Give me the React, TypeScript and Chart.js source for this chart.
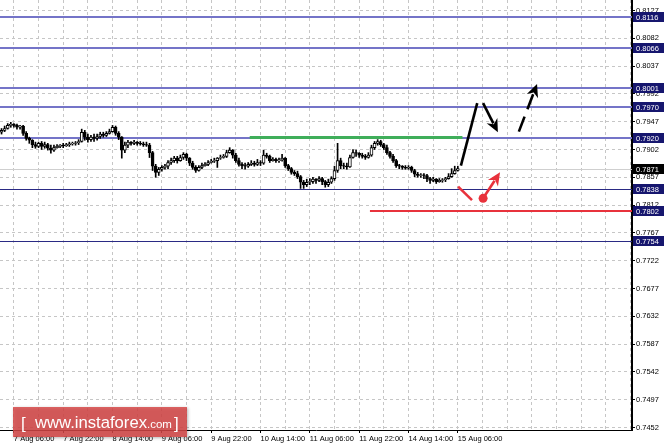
import React, { useEffect, useRef } from 'react';
import { Chart, registerables } from 'chart.js';

Chart.register(...registerables);

// ---- Hourly candles ----
const OPEN = [
  0.7930, 0.7933, 0.7936, 0.7941, 0.7943, 0.7941, 0.7938, 0.7940, 0.7928, 0.7920,
  0.7917, 0.7910, 0.7907, 0.7912, 0.7907, 0.7910, 0.7904, 0.7901, 0.7905, 0.7907,
  0.7909, 0.7908, 0.7910, 0.7911, 0.7912, 0.7913, 0.7915, 0.7930, 0.7922, 0.7918,
  0.7922, 0.7920, 0.7923, 0.7927, 0.7925, 0.7928, 0.7931, 0.7938, 0.7928, 0.7922,
  0.7901, 0.7909, 0.7914, 0.7912, 0.7914, 0.7912, 0.7911, 0.7910, 0.7909, 0.7897,
  0.7875, 0.7865, 0.7870, 0.7873, 0.7875, 0.7881, 0.7884, 0.7888, 0.7884, 0.7889,
  0.7894, 0.7888, 0.7880, 0.7873, 0.7868, 0.7873, 0.7876, 0.7878, 0.7881, 0.7883,
  0.7884, 0.7888, 0.7889, 0.7891, 0.7897, 0.7901, 0.7893, 0.7884, 0.7878, 0.7876,
  0.7875, 0.7878, 0.7880, 0.7878, 0.7881, 0.7880, 0.7893, 0.7891, 0.7884, 0.7886,
  0.7884, 0.7885, 0.7888, 0.7876, 0.7871, 0.7865, 0.7863, 0.7858, 0.7849, 0.7845,
  0.7849, 0.7850, 0.7854, 0.7852, 0.7855, 0.7850, 0.7845, 0.7849, 0.7855, 0.7868,
  0.7884, 0.7876, 0.7875, 0.7874, 0.7889, 0.7897, 0.7896, 0.7893, 0.7891, 0.7889,
  0.7893, 0.7905, 0.7912, 0.7915, 0.7910, 0.7905, 0.7897, 0.7891, 0.7884, 0.7876,
  0.7875, 0.7873, 0.7872, 0.7873, 0.7868, 0.7862, 0.7860, 0.7861, 0.7860, 0.7855,
  0.7852, 0.7854, 0.7850, 0.7852, 0.7853, 0.7855, 0.7858, 0.7863, 0.7868,
];
const HIGH = [
  0.7936, 0.7940, 0.7944, 0.7946, 0.7944, 0.7943, 0.7941, 0.7941, 0.7931, 0.7922,
  0.7918, 0.7914, 0.7914, 0.7915, 0.7914, 0.7912, 0.7909, 0.7909, 0.7910, 0.7910,
  0.7912, 0.7912, 0.7914, 0.7914, 0.7915, 0.7918, 0.7935, 0.7933, 0.7927, 0.7925,
  0.7927, 0.7927, 0.7930, 0.7930, 0.7931, 0.7935, 0.7941, 0.7940, 0.7931, 0.7923,
  0.7914, 0.7917, 0.7915, 0.7917, 0.7915, 0.7915, 0.7914, 0.7914, 0.7912, 0.7899,
  0.7878, 0.7873, 0.7876, 0.7878, 0.7884, 0.7888, 0.7891, 0.7891, 0.7893, 0.7897,
  0.7896, 0.7889, 0.7883, 0.7876, 0.7876, 0.7880, 0.7881, 0.7884, 0.7886, 0.7888,
  0.7889, 0.7893, 0.7894, 0.7901, 0.7905, 0.7902, 0.7896, 0.7888, 0.7881, 0.7880,
  0.7881, 0.7884, 0.7883, 0.7886, 0.7884, 0.7901, 0.7896, 0.7893, 0.7889, 0.7888,
  0.7888, 0.7894, 0.7889, 0.7878, 0.7873, 0.7868, 0.7867, 0.7860, 0.7852, 0.7854,
  0.7855, 0.7857, 0.7855, 0.7858, 0.7857, 0.7852, 0.7854, 0.7858, 0.7875, 0.7912,
  0.7888, 0.7880, 0.7880, 0.7893, 0.7902, 0.7901, 0.7897, 0.7896, 0.7894, 0.7897,
  0.7909, 0.7915, 0.7918, 0.7917, 0.7912, 0.7909, 0.7899, 0.7894, 0.7886, 0.7878,
  0.7876, 0.7876, 0.7876, 0.7875, 0.7870, 0.7865, 0.7863, 0.7863, 0.7862, 0.7857,
  0.7857, 0.7855, 0.7855, 0.7855, 0.7857, 0.7863, 0.7871, 0.7875, 0.7875,
];
const LOW = [
  0.7927, 0.7931, 0.7935, 0.7938, 0.7938, 0.7935, 0.7935, 0.7925, 0.7917, 0.7912,
  0.7905, 0.7904, 0.7905, 0.7902, 0.7904, 0.7901, 0.7896, 0.7899, 0.7904, 0.7905,
  0.7905, 0.7907, 0.7907, 0.7909, 0.7909, 0.7910, 0.7914, 0.7917, 0.7914, 0.7915,
  0.7915, 0.7917, 0.7920, 0.7922, 0.7923, 0.7927, 0.7930, 0.7925, 0.7918, 0.7888,
  0.7897, 0.7905, 0.7909, 0.7910, 0.7909, 0.7909, 0.7907, 0.7907, 0.7889, 0.7868,
  0.7857, 0.7860, 0.7867, 0.7870, 0.7871, 0.7878, 0.7881, 0.7880, 0.7883, 0.7886,
  0.7884, 0.7876, 0.7870, 0.7865, 0.7867, 0.7871, 0.7875, 0.7876, 0.7880, 0.7881,
  0.7873, 0.7886, 0.7888, 0.7889, 0.7896, 0.7888, 0.7881, 0.7875, 0.7871, 0.7870,
  0.7873, 0.7876, 0.7875, 0.7876, 0.7876, 0.7878, 0.7888, 0.7881, 0.7883, 0.7881,
  0.7881, 0.7883, 0.7873, 0.7868, 0.7862, 0.7860, 0.7855, 0.7839, 0.7839, 0.7842,
  0.7845, 0.7847, 0.7847, 0.7850, 0.7845, 0.7841, 0.7842, 0.7847, 0.7852, 0.7865,
  0.7871, 0.7871, 0.7870, 0.7873, 0.7888, 0.7891, 0.7889, 0.7888, 0.7886, 0.7888,
  0.7891, 0.7902, 0.7909, 0.7907, 0.7902, 0.7894, 0.7888, 0.7881, 0.7873, 0.7871,
  0.7870, 0.7870, 0.7870, 0.7865, 0.7858, 0.7857, 0.7857, 0.7855, 0.7850, 0.7847,
  0.7850, 0.7847, 0.7849, 0.7849, 0.7850, 0.7854, 0.7857, 0.7862, 0.7867,
];
const CLOSE = [
  0.7933, 0.7936, 0.7941, 0.7943, 0.7941, 0.7938, 0.7940, 0.7928, 0.7920, 0.7917,
  0.7910, 0.7907, 0.7912, 0.7907, 0.7910, 0.7904, 0.7901, 0.7905, 0.7907, 0.7909,
  0.7908, 0.7910, 0.7911, 0.7912, 0.7913, 0.7915, 0.7930, 0.7922, 0.7918, 0.7922,
  0.7920, 0.7923, 0.7927, 0.7925, 0.7928, 0.7931, 0.7938, 0.7928, 0.7922, 0.7901,
  0.7909, 0.7914, 0.7912, 0.7914, 0.7912, 0.7911, 0.7910, 0.7909, 0.7897, 0.7875,
  0.7865, 0.7870, 0.7873, 0.7875, 0.7881, 0.7884, 0.7888, 0.7884, 0.7889, 0.7894,
  0.7888, 0.7880, 0.7873, 0.7868, 0.7873, 0.7876, 0.7878, 0.7881, 0.7883, 0.7884,
  0.7888, 0.7889, 0.7891, 0.7897, 0.7901, 0.7893, 0.7884, 0.7878, 0.7876, 0.7875,
  0.7878, 0.7880, 0.7878, 0.7881, 0.7880, 0.7893, 0.7891, 0.7884, 0.7886, 0.7884,
  0.7885, 0.7888, 0.7876, 0.7871, 0.7865, 0.7863, 0.7858, 0.7849, 0.7845, 0.7849,
  0.7850, 0.7854, 0.7852, 0.7855, 0.7850, 0.7845, 0.7849, 0.7855, 0.7868, 0.7884,
  0.7876, 0.7875, 0.7874, 0.7889, 0.7897, 0.7896, 0.7893, 0.7891, 0.7889, 0.7893,
  0.7905, 0.7912, 0.7915, 0.7910, 0.7905, 0.7897, 0.7891, 0.7884, 0.7876, 0.7875,
  0.7873, 0.7872, 0.7873, 0.7868, 0.7862, 0.7860, 0.7861, 0.7860, 0.7855, 0.7852,
  0.7854, 0.7850, 0.7852, 0.7853, 0.7855, 0.7858, 0.7863, 0.7868, 0.7871,
];

// total bar slots on the time axis (candles + empty forecast space on the right)
const SLOT_COUNT = 205;

// time axis labels and the bars they sit on
const X_LABELS = [
  '7 Aug 06:00', '7 Aug 22:00', '8 Aug 14:00', '9 Aug 06:00', '9 Aug 22:00',
  '10 Aug 14:00', '11 Aug 06:00', '11 Aug 22:00', '14 Aug 14:00', '15 Aug 06:00',
];
const X_LABEL_BARS = [4, 20, 36, 52, 68, 84, 100, 116, 132, 148];

// price axis
const Y_MIN = 0.7448;
const Y_MAX = 0.8144;
const Y_TICKS = [
  0.8127, 0.8082, 0.8037, 0.7992, 0.7947, 0.7902, 0.7857, 0.7812,
  0.7767, 0.7722, 0.7677, 0.7632, 0.7587, 0.7542, 0.7497, 0.7452,
];

// horizontal levels
const BLUE_LEVELS = [0.8116, 0.8066, 0.8001, 0.7970, 0.7920];
const NAVY_LEVELS = [0.7838, 0.7754];
const RED_LEVEL = 0.7802;
const RED_LEVEL_FROM_BAR = 119.5;
const GREEN_LEVEL = 0.7923;
const GREEN_FROM_BAR = 80.5;
const GREEN_TO_BAR = 149.5;
const CURRENT_PRICE = 0.7871;
const LABELLED_LEVELS = [0.8116, 0.8066, 0.8001, 0.7970, 0.7920, 0.7838, 0.7802, 0.7754];

// forecast drawings: [bar, price]
const BLACK_PATH: number[][] = [[149, 0.7876], [154.3, 0.7977]];
const BLACK_ARROW: number[][] = [[156.2, 0.7977], [161, 0.7930]];
const BLACK_DASHED_ARROW: number[][] = [[167.8, 0.7931], [173.7, 0.8008]];
const RED_SEGMENT: number[][] = [[148.1, 0.7842], [152.6, 0.7820]];
const RED_DOT = [156.2, 0.7823];
const RED_ARROW: number[][] = [[156.2, 0.7823], [161.7, 0.7865]];

const FONT = '"Liberation Sans", Arial, sans-serif';

const overlayPlugin = {
  id: 'overlay',
  beforeDatasetsDraw(chart: any) {
    const { ctx, chartArea, scales } = chart;
    const x = scales.x;
    const y = scales.y;
    ctx.save();
    ctx.beginPath();
    ctx.rect(chartArea.left, chartArea.top, chartArea.right - chartArea.left, chartArea.bottom - chartArea.top);
    ctx.clip();
    const hline = (v: number, color: string, w: number, x0: number, x1: number) => {
      let py = y.getPixelForValue(v);
      py = w % 2 === 1 ? Math.round(py) + 0.5 : Math.round(py);
      ctx.strokeStyle = color;
      ctx.lineWidth = w;
      ctx.setLineDash([]);
      ctx.beginPath();
      ctx.moveTo(x0, py);
      ctx.lineTo(x1, py);
      ctx.stroke();
    };
    hline(CURRENT_PRICE, '#cfcfcf', 1, chartArea.left, chartArea.right);
    BLUE_LEVELS.forEach((v) => hline(v, '#7474c8', 2, chartArea.left, chartArea.right));
    NAVY_LEVELS.forEach((v) => hline(v, '#2a2a84', 1, chartArea.left, chartArea.right));
    hline(RED_LEVEL, '#e8323c', 2, x.getPixelForValue(RED_LEVEL_FROM_BAR), chartArea.right);
    hline(GREEN_LEVEL, '#3fae5a', 3, x.getPixelForValue(GREEN_FROM_BAR), x.getPixelForValue(GREEN_TO_BAR));
    ctx.restore();
  },
  afterDatasetsDraw(chart: any) {
    const { ctx, scales } = chart;
    const x = scales.x;
    const y = scales.y;
    const P = (p: number[]) => [x.getPixelForValue(p[0]), y.getPixelForValue(p[1])];
    const arrow = (pts: number[][], color: string, head: boolean, dash: number[]) => {
      const [x0, y0] = P(pts[0]);
      const [x1, y1] = P(pts[1]);
      const ang = Math.atan2(y1 - y0, x1 - x0);
      const hl = head ? 13 : 0;
      const ex = x1 - Math.cos(ang) * hl;
      const ey = y1 - Math.sin(ang) * hl;
      ctx.save();
      ctx.strokeStyle = color;
      ctx.fillStyle = color;
      ctx.lineWidth = 2.6;
      ctx.lineCap = 'butt';
      ctx.setLineDash(dash);
      ctx.beginPath();
      ctx.moveTo(x0, y0);
      ctx.lineTo(head ? ex + Math.cos(ang) * 3 : x1, head ? ey + Math.sin(ang) * 3 : y1);
      ctx.stroke();
      ctx.setLineDash([]);
      if (head) {
        const hw = 6;
        ctx.beginPath();
        ctx.moveTo(x1, y1);
        ctx.lineTo(ex + Math.cos(ang + Math.PI / 2) * hw, ey + Math.sin(ang + Math.PI / 2) * hw);
        ctx.lineTo(ex + Math.cos(ang) * 4, ey + Math.sin(ang) * 4);
        ctx.lineTo(ex + Math.cos(ang - Math.PI / 2) * hw, ey + Math.sin(ang - Math.PI / 2) * hw);
        ctx.closePath();
        ctx.fill();
      }
      ctx.restore();
    };
    arrow(BLACK_PATH, '#000', false, []);
    arrow(BLACK_ARROW, '#000', true, []);
    arrow(BLACK_DASHED_ARROW, '#000', true, [16, 8]);
    arrow(RED_SEGMENT, '#e8323c', false, []);
    arrow(RED_ARROW, '#e8323c', true, []);
    const [dx, dy] = P(RED_DOT);
    ctx.save();
    ctx.fillStyle = '#e8323c';
    ctx.beginPath();
    ctx.arc(dx, dy, 4.5, 0, Math.PI * 2);
    ctx.fill();
    ctx.restore();
  },
  afterDraw(chart: any) {
    const { ctx, chartArea, scales } = chart;
    const y = scales.y;
    ctx.save();
    // price labels of the levels
    const box = (v: number, bg: string) => {
      const py = Math.round(y.getPixelForValue(v));
      ctx.fillStyle = bg;
      ctx.fillRect(chartArea.right + 1, py - 5, 31, 10);
      ctx.fillStyle = '#fff';
      ctx.font = `7.5px ${FONT}`;
      ctx.textBaseline = 'middle';
      ctx.textAlign = 'left';
      ctx.fillText(v.toFixed(4), chartArea.right + 4, py + 0.5);
    };
    LABELLED_LEVELS.forEach((v) => box(v, '#16166e'));
    box(CURRENT_PRICE, '#000');

    // watermark
    ctx.shadowColor = 'rgba(0,0,0,0.35)';
    ctx.shadowBlur = 3;
    ctx.shadowOffsetX = 1;
    ctx.shadowOffsetY = 1;
    ctx.fillStyle = 'rgba(214,70,70,0.84)';
    ctx.fillRect(13, 407, 174, 30);
    ctx.shadowColor = 'transparent';
    ctx.fillStyle = '#fff';
    ctx.textBaseline = 'alphabetic';
    ctx.textAlign = 'left';
    ctx.font = `16px ${FONT}`;
    const w16 = ctx.measureText('www.instaforex').width;
    const big = (16 * 112) / w16;
    ctx.font = `${big.toFixed(2)}px ${FONT}`;
    ctx.fillText('www.instaforex', 35, 428);
    ctx.font = `11.5px ${FONT}`;
    ctx.fillText('.com', 147, 428);
    ctx.font = `17px ${FONT}`;
    ctx.fillText('[', 21, 429);
    ctx.fillText(']', 174, 429);
    ctx.restore();
  },
};

export default function App() {
  const ref = useRef<HTMLCanvasElement | null>(null);
  useEffect(() => {
    document.body.style.margin = '0';
    const canvas = ref.current;
    if (!canvas) return;
    const labels = Array.from({ length: SLOT_COUNT }, (_, i) => String(i));
    const bodies = OPEN.map((o, i) => [o, CLOSE[i]]);
    const wicks = LOW.map((l, i) => [l, HIGH[i]]);
    const bodyColors = OPEN.map((o, i) => (CLOSE[i] >= o ? '#ffffff' : '#000000'));
    const tickFont = { family: FONT, size: 7.5 };
    const chart = new Chart(canvas, {
      type: 'bar',
      data: {
        labels,
        datasets: [
          {
            label: 'body',
            data: bodies as any,
            backgroundColor: bodyColors,
            borderColor: '#000',
            borderWidth: 1,
            borderSkipped: false,
            barThickness: 3,
            grouped: false,
            order: 1,
          } as any,
          {
            label: 'wick',
            data: wicks as any,
            backgroundColor: '#000',
            borderWidth: 0,
            barThickness: 1,
            grouped: false,
            order: 2,
          } as any,
        ],
      },
      options: {
        animation: false,
        responsive: false,
        devicePixelRatio: 1,
        layout: { padding: 0 },
        plugins: { legend: { display: false }, tooltip: { enabled: false } },
        scales: {
          x: {
            type: 'category',
            offset: true,
            grid: {
              offset: false,
              color: (c: any) => (c.index % 8 === 4 ? '#c6c6c6' : 'rgba(0,0,0,0)'),
              tickColor: (c: any) => (X_LABEL_BARS.includes(c.index) ? '#000' : 'rgba(0,0,0,0)'),
              tickLength: 3,
              lineWidth: 1,
            },
            border: { display: true, color: '#000', width: 1, dash: [3, 3] },
            ticks: {
              autoSkip: false,
              maxRotation: 0,
              minRotation: 0,
              align: 'start',
              padding: 1,
              color: '#000',
              font: tickFont,
              callback: (_v: any, i: number) => {
                const k = X_LABEL_BARS.indexOf(i);
                return k >= 0 ? X_LABELS[k] : '';
              },
            },
            afterFit: (s: any) => {
              s.height = 17;
              s.paddingLeft = 0;
              s.paddingRight = 0;
            },
          } as any,
          y: {
            type: 'linear',
            position: 'right',
            min: Y_MIN,
            max: Y_MAX,
            afterBuildTicks: (s: any) => {
              s.ticks = Y_TICKS.map((v) => ({ value: v }));
            },
            grid: { color: '#c6c6c6', tickColor: '#000', tickLength: 3, lineWidth: 1 },
            border: { display: true, color: '#000', width: 2, dash: [3, 3] },
            ticks: {
              padding: 1,
              color: '#000',
              font: tickFont,
              callback: (v: any) => Number(v).toFixed(4),
            },
            afterFit: (s: any) => {
              s.width = 32;
              s.paddingTop = 0;
              s.paddingBottom = 0;
            },
          } as any,
        },
      },
      plugins: [overlayPlugin],
    });
    return () => chart.destroy();
  }, []);
  return <canvas ref={ref} width={664} height={447} style={{ display: 'block' }} />;
}
